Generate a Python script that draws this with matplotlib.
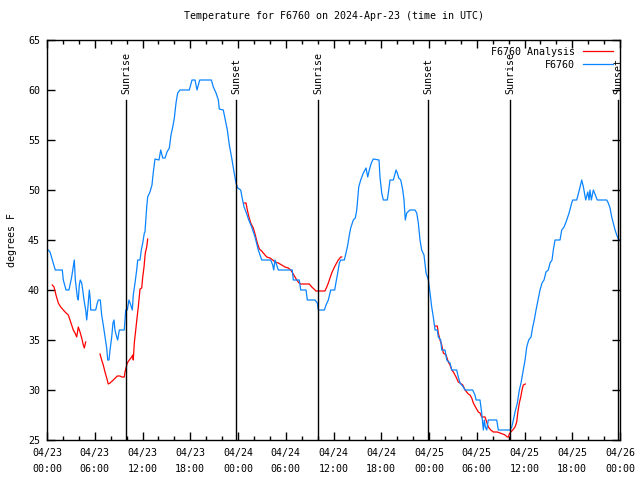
import numpy as np
import pandas as pd
import matplotlib
matplotlib.use("Agg")
import matplotlib.pyplot as plt
import matplotlib.dates as mdates

# hours since 2024-04-23 00:00 UTC, temperature in deg F
obs_hours = [0.16, 0.38, 0.67, 1.04, 1.92, 2.05, 2.39, 2.76, 3.10, 3.30, 3.43, 3.56, 3.81, 3.93,
             4.06, 4.18, 4.36, 4.49, 4.65, 4.86, 4.99, 5.11, 5.24, 5.32, 5.44, 5.49, 6.12, 6.32,
             6.45, 6.70, 6.87, 7.07, 7.29, 7.50, 7.63, 7.79, 7.92, 8.13, 8.29, 8.42, 8.54, 8.76,
             8.88, 9.09, 9.71, 9.89, 10.09, 10.30, 10.52, 10.72, 10.84, 11.06, 11.27, 11.40, 11.69,
             11.85, 12.03, 12.23, 12.31, 12.53, 12.65, 12.94, 13.19, 13.36, 13.57, 14.07, 14.29,
             14.54, 14.83, 15.08, 15.37, 15.58, 15.80, 16.00, 16.21, 16.42, 16.71, 17.88, 18.22,
             18.60, 18.85, 19.19, 20.65, 20.90, 21.24, 21.53, 21.65, 22.15, 22.41, 22.66, 22.91,
             23.21, 23.50, 23.75, 23.96, 24.34, 24.50, 24.76, 25.01, 25.35, 25.72, 26.14, 26.55,
             26.77, 26.98, 28.11, 28.36, 28.49, 28.65, 28.86, 29.07, 30.82, 30.95, 31.70, 31.88,
             32.55, 32.71, 33.68, 33.97, 34.09, 34.85, 35.06, 35.35, 35.65, 36.15, 36.32, 36.53,
             36.73, 36.91, 37.36, 37.57, 37.79, 37.99, 38.16, 38.49, 38.74, 38.92, 39.17, 39.42,
             39.75, 40.09, 40.30, 40.50, 40.75, 41.00, 41.72, 41.84, 42.06, 42.26, 42.76, 42.94,
             43.10, 43.52, 43.86, 44.02, 44.20, 44.45, 44.70, 44.86, 45.02, 45.20, 45.61, 46.24,
             46.46, 46.66, 46.87, 47.08, 47.37, 47.63, 47.92, 48.13, 48.34, 48.54, 48.76, 49.04,
             49.17, 49.47, 49.60, 50.01, 50.23, 50.64, 50.86, 51.48, 51.68, 51.90, 52.31, 52.53,
             53.49, 53.78, 53.91, 54.41, 54.62, 54.75, 54.83, 54.95, 55.08, 55.25, 55.45, 56.51,
             56.71, 58.18, 58.40, 58.60, 58.81, 59.10, 59.35, 59.56, 59.85, 60.07, 60.28, 60.53,
             60.82, 61.03, 61.23, 61.45, 61.70, 61.95, 62.20, 62.45, 62.70, 62.99, 63.21, 63.46,
             63.62, 63.84, 64.46, 64.68, 64.97, 65.31, 65.60, 65.93, 66.06, 66.56, 66.89, 67.19,
             67.40, 67.69, 67.95, 68.11, 68.23, 68.40, 68.65, 68.99, 69.15, 70.33, 70.53, 70.75,
             70.96, 71.16, 71.38, 71.59, 71.79, 72.00]
obs_temp = [44.0, 43.8, 43.0, 42.0, 42.0, 41.0, 40.0, 40.0, 41.3, 42.3, 43.0, 41.0, 39.3, 39.0,
            40.5, 41.0, 40.7, 40.0, 39.0, 38.0, 37.0, 38.0, 39.3, 40.0, 39.0, 38.0, 38.0, 38.7,
            39.0, 39.0, 37.5, 36.5, 35.3, 34.2, 33.0, 33.0, 34.0, 35.3, 36.7, 37.0, 36.0, 35.3,
            35.0, 36.0, 36.0, 38.0, 38.0, 39.0, 38.5, 38.0, 39.5, 40.7, 42.0, 43.0, 43.0,
            44.0, 44.7, 45.7, 45.8, 48.3, 49.3, 49.8, 50.5, 51.8, 53.1, 53.0, 54.0,
            53.2, 53.2, 53.8, 54.2, 55.5, 56.3, 57.2, 58.7, 59.7, 60.0, 60.0, 61.0,
            61.0, 60.0, 61.0, 61.0, 60.3, 59.7, 59.0, 58.1, 58.0, 57.0, 56.0, 54.5,
            53.2, 51.8, 50.7, 50.2, 50.0, 49.3, 48.3, 47.8, 47.0, 46.3, 45.3, 44.0,
            43.5, 43.0, 43.0, 42.5, 42.0, 43.0, 42.5, 42.0, 42.0, 41.0, 41.0, 40.0,
            40.0, 39.0, 39.0, 38.7, 38.0, 38.0, 38.5, 39.0, 40.0, 40.0, 40.8, 41.7,
            42.7, 43.0, 43.0, 43.7, 44.5, 45.5, 46.2, 47.0, 47.2, 48.0, 50.3, 51.0,
            51.7, 52.2, 51.3, 52.0, 52.7, 53.1, 53.0, 51.3, 49.7, 49.0, 49.0, 50.0,
            51.0, 51.0, 52.0, 51.7, 51.2, 51.0, 50.0, 49.0, 47.0, 47.7, 48.0, 48.0,
            47.7, 46.7, 45.0, 44.0, 43.5, 41.7, 41.0, 39.7, 38.3, 37.3, 36.0, 36.0,
            35.3, 35.0, 34.0, 34.0, 33.0, 32.7, 32.0, 32.0, 31.3, 30.7, 30.3, 30.0,
            30.0, 29.5, 29.0, 29.0, 27.7, 26.7, 26.0, 27.0, 26.3, 26.0, 27.0, 27.0,
            26.0, 26.0, 26.3, 27.0, 27.8, 28.7, 30.0, 30.7, 32.0, 33.0, 34.3, 35.0,
            35.3, 36.3, 37.0, 38.0, 39.0, 40.0, 40.7, 41.0, 41.8, 42.0, 42.7, 43.0,
            44.0, 45.0, 45.0, 46.0, 46.3, 47.0, 47.7, 48.7, 49.0, 49.0, 50.0, 51.0,
            50.3, 49.0, 49.8, 49.0, 50.0, 49.0, 50.0, 49.3, 49.0, 49.0, 48.7, 48.2,
            47.3, 46.7, 46.0, 45.5, 45.1, 45.0]

# analysis series, four separate pieces
ana_hours = [
    [0.67, 0.88, 1.13, 1.42, 1.72, 2.05, 2.39, 2.68, 2.89, 3.10, 3.30, 3.52, 3.73, 3.93, 4.15,
     4.36, 4.56, 4.69, 4.86],
    [6.66, 6.87, 7.07, 7.29, 7.50, 7.70, 7.92, 8.33, 8.83, 9.17, 9.39, 9.71, 9.80, 10.09, 10.34,
     10.64, 10.77, 10.84, 10.97, 11.15, 11.31, 11.47, 11.69, 11.90, 12.03, 12.19, 12.35, 12.53,
     12.65],
    [24.76, 25.01, 25.17, 25.38, 25.60, 25.92, 26.14, 26.43, 26.68, 26.98, 27.18, 27.61, 28.02,
     28.36, 28.65, 29.07, 29.49, 29.91, 30.32, 30.62, 30.87, 31.16, 31.38, 31.67, 31.88, 32.96,
     33.27, 33.55, 33.80, 34.93, 35.15, 35.35, 35.56, 35.78, 36.06, 36.32, 36.60, 36.91, 37.03],
    [48.76, 49.04, 49.17, 49.38, 49.60, 49.80, 50.14, 50.43, 50.64, 50.86, 51.06, 51.40, 51.68,
     51.90, 52.24, 52.53, 52.94, 53.15, 53.37, 53.57, 53.91, 54.20, 54.41, 54.62, 55.04, 55.25,
     55.45, 55.76, 56.08, 56.58, 56.92, 57.26, 57.55, 57.84, 57.97, 58.09, 58.27, 58.52, 58.81,
     59.02, 59.15, 59.35, 59.53, 59.69, 59.85, 60.10],
]
ana_temp = [
    [40.5, 40.3, 39.5, 38.7, 38.3, 38.0, 37.7, 37.5, 37.0, 36.5, 36.0, 35.7, 35.3, 36.3, 35.8,
     35.2, 34.5, 34.2, 34.8],
    [33.6, 33.0, 32.5, 31.8, 31.2, 30.6, 30.7, 31.0, 31.4, 31.4, 31.3, 31.3, 31.8, 32.7, 33.0,
     33.3, 33.5, 33.0, 34.7, 36.0, 37.2, 38.3, 40.1, 40.2, 41.3, 42.3, 43.7, 44.3, 45.1],
    [48.7, 48.7, 48.0, 47.3, 46.7, 46.2, 45.6, 44.7, 44.1, 43.9, 43.7, 43.3, 43.2,
     43.0, 42.8, 42.7, 42.5, 42.3, 42.2, 42.0, 41.7, 41.3, 41.0, 40.7, 40.6, 40.6,
     40.3, 40.1, 39.9, 39.9, 40.3, 40.7, 41.2, 41.7, 42.2, 42.6, 43.0, 43.3, 43.3],
    [36.4, 36.4, 35.7, 35.0, 34.5, 33.7, 33.5, 32.8, 32.5, 32.0, 31.8, 31.3, 30.8,
     30.7, 30.5, 30.0, 29.6, 29.5, 29.2, 28.7, 28.2, 27.8, 27.7, 27.3, 27.3, 26.8,
     26.3, 26.0, 25.8, 25.8, 25.7, 25.6, 25.5, 25.3, 25.3, 25.6, 25.8, 26.0, 26.3,
     26.8, 27.7, 28.7, 29.3, 30.0, 30.5, 30.6],
]

sun_hours = [9.93, 23.75, 34.05, 47.88, 58.18, 71.75]
sun_labels = ["Sunrise", "Sunset", "Sunrise", "Sunset", "Sunrise", "Sunset"]

t0 = pd.Timestamp("2024-04-23 00:00")
def to_time(h):
    return t0 + pd.to_timedelta(np.array(h), unit="h")

plt.rcParams["font.family"] = "DejaVu Sans Mono"
plt.rcParams["font.size"] = 7.2

fig = plt.figure(figsize=(6.4, 4.8), dpi=100)
ax = fig.add_axes([47 / 640, 40 / 480, 573 / 640, 400 / 480])

red = "#ff0000"
blue = "#0a84ff"
for i, (h, t) in enumerate(zip(ana_hours, ana_temp)):
    ax.plot(to_time(h), t, color=red, lw=0.9, label="F6760 Analysis" if i == 0 else None)
ax.plot(to_time(obs_hours), obs_temp, color=blue, lw=0.9, label="F6760")

trans = ax.get_xaxis_transform()
for h, lab in zip(sun_hours, sun_labels):
    x = to_time([h])[0]
    ax.plot([x, x], [0, 0.85], color="black", lw=1.0, transform=trans)
    ax.text(x, 0.866, lab, rotation=90, ha="center", va="bottom", transform=trans)

ax.set_xlim(t0, t0 + pd.Timedelta(hours=72))
ax.set_ylim(25, 65)
ax.set_yticks(np.arange(25, 66, 5))
ax.xaxis.set_major_locator(mdates.HourLocator(byhour=[0, 6, 12, 18]))
ax.xaxis.set_minor_locator(mdates.HourLocator(interval=2))
ax.xaxis.set_major_formatter(mdates.DateFormatter("%m/%d\n%H:%M"))
ax.tick_params(which="both", direction="in", top=True, right=True, width=1)
ax.tick_params(which="major", length=6)
ax.tick_params(which="minor", length=3)
ax.tick_params(axis="x", pad=6)
ax.tick_params(axis="y", pad=5)
plt.setp(ax.get_xticklabels(), linespacing=1.65)
for s in ax.spines.values():
    s.set_linewidth(1)

ax.set_title("Temperature for F6760 on 2024-Apr-23 (time in UTC)", fontsize=7.2, pad=15)
ax.set_ylabel("degrees F", labelpad=8)

ax.legend(loc="upper right", frameon=False, markerfirst=False, handlelength=3.0,
          borderaxespad=0.3, labelspacing=0.3, handletextpad=0.8)

fig.savefig("out.png", dpi=100)
